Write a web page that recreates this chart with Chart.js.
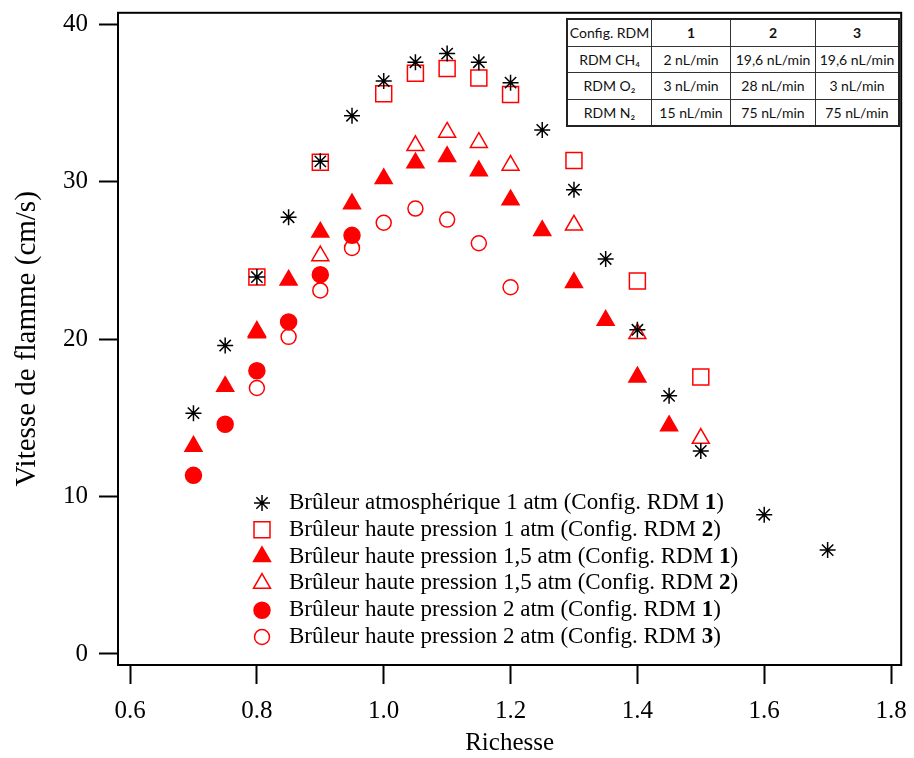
<!DOCTYPE html>
<html lang="fr">
<head>
<meta charset="utf-8">
<title>Vitesse de flamme</title>
<script src="https://cdn.jsdelivr.net/npm/chart.js@4.4.1/dist/chart.umd.min.js"></script>
<style>
  html, body { margin: 0; padding: 0; background: #fff; }
  #cadre { position: relative; width: 914px; height: 758px; }
  #tableRDM {
    position: absolute; left: 566px; top: 18px;
    border-collapse: collapse; background: #fff; color: #111;
    font-family: Lato, "Open Sans", sans-serif; font-size: 14px;
    border: 2px solid #222;
  }
  #tableRDM td { border: 1px solid #333; text-align: center; height: 25.5px; padding: 0; }
  #tableRDM td.b { font-weight: bold; }
</style>
</head>
<body>
<div id="cadre">
  <canvas id="chartFlamme"></canvas>
  <table id="tableRDM">
    <tr><td style="width:83px">Config. RDM</td><td class="b" style="width:78px">1</td><td class="b" style="width:84px">2</td><td class="b" style="width:82px">3</td></tr>
    <tr><td>RDM CH₄</td><td>2 nL/min</td><td>19,6 nL/min</td><td>19,6 nL/min</td></tr>
    <tr><td>RDM O₂</td><td>3 nL/min</td><td>28 nL/min</td><td>3 nL/min</td></tr>
    <tr><td>RDM N₂</td><td>15 nL/min</td><td>75 nL/min</td><td>75 nL/min</td></tr>
  </table>
</div>
<script>
// ---- données ----
const xTicks = [0.6, 0.8, 1.0, 1.2, 1.4, 1.6, 1.8];
const yTicks = [0, 10, 20, 30, 40];

const nomsSeries = [
  "Brûleur atmosphérique 1 atm",
  "Brûleur haute pression 1 atm",
  "Brûleur haute pression 1,5 atm",
  "Brûleur haute pression 1,5 atm",
  "Brûleur haute pression 2 atm",
  "Brûleur haute pression 2 atm",
];
const configSeries = ["1", "2", "1", "2", "1", "3"];

// brûleur atmosphérique 1 atm (RDM 1)
const xAtm = [0.7, 0.75, 0.8, 0.85, 0.9, 0.95, 1.0, 1.05, 1.1, 1.15, 1.2, 1.25, 1.3, 1.35, 1.4, 1.45, 1.5, 1.6, 1.7];
const yAtm = [15.3, 19.6, 23.95, 27.75, 31.3, 34.2, 36.4, 37.6, 38.15, 37.6, 36.3, 33.3, 29.5, 25.1, 20.6, 16.4, 12.9, 8.85, 6.6];

// haute pression 1 atm (RDM 2)
const xHp1 = [0.8, 0.9, 1.0, 1.05, 1.1, 1.15, 1.2, 1.3, 1.4, 1.5];
const yHp1 = [23.95, 31.25, 35.6, 36.9, 37.2, 36.6, 35.55, 31.35, 23.7, 17.6];

// haute pression 1,5 atm (RDM 1)
const xHp15a = [0.7, 0.75, 0.8, 0.85, 0.9, 0.95, 1.0, 1.05, 1.1, 1.15, 1.2, 1.25, 1.3, 1.35, 1.4, 1.45];
const yHp15a = [13.2, 17.0, 20.4, 23.75, 26.8, 28.6, 30.2, 31.2, 31.6, 30.7, 28.85, 26.9, 23.6, 21.2, 17.6, 14.5];

// haute pression 1,5 atm (RDM 2)
const xHp15b = [0.8, 0.9, 1.05, 1.1, 1.15, 1.2, 1.3, 1.4, 1.5];
const yHp15b = [20.5, 25.3, 32.3, 33.15, 32.5, 31.05, 27.25, 20.35, 13.7];

// haute pression 2 atm (RDM 1)
const xHp2a = [0.7, 0.75, 0.8, 0.85, 0.9, 0.95];
const yHp2a = [11.35, 14.6, 18.0, 21.1, 24.1, 26.6];

// haute pression 2 atm (RDM 3)
const xHp2b = [0.8, 0.85, 0.9, 0.95, 1.0, 1.05, 1.1, 1.15, 1.2];
const yHp2b = [16.9, 20.15, 23.1, 25.8, 27.4, 28.3, 27.6, 26.1, 23.3];

// ---- mise en forme ----
const ROUGE = "#ff0000";
const POLICE = '"Liberation Serif", "Times New Roman", serif';
const LEGENDE_X = 262, TEXTE_X = 289, LEGENDE_Y = 503, LEGENDE_PAS = 26.8;
const TAILLE_LEGENDE = 23;

function points(xs, ys) {
  return xs.map((x, i) => ({ x: x, y: ys[i] }));
}

function serie(i, xs, ys, style, rayon, plein, couleur) {
  return {
    label: nomsSeries[i] + " (Config. RDM " + configSeries[i] + ")",
    data: points(xs, ys),
    pointStyle: style,
    pointRadius: rayon,
    pointHoverRadius: rayon,
    borderWidth: 1.5,
    borderColor: couleur,
    backgroundColor: plein ? couleur : "rgba(0,0,0,0)",
    showLine: false,
  };
}

// cadre complet autour de la zone de tracé
const cadrePlugin = {
  id: "cadre",
  afterDraw(chart) {
    const a = chart.chartArea, ctx = chart.ctx;
    ctx.save();
    ctx.strokeStyle = "#000";
    ctx.lineWidth = 2;
    ctx.strokeRect(a.left, a.top, a.right - a.left, a.bottom - a.top);
    ctx.restore();
  },
};

// légende dans la zone de tracé, avec le numéro de config en gras
const legendePlugin = {
  id: "legendeInterne",
  afterDatasetsDraw(chart) {
    const ctx = chart.ctx;
    const normal = TAILLE_LEGENDE + "px " + POLICE;
    const gras = "bold " + TAILLE_LEGENDE + "px " + POLICE;
    chart.data.datasets.forEach((ds, i) => {
      const y = LEGENDE_Y + i * LEGENDE_PAS;
      ctx.save();
      ctx.fillStyle = ds.backgroundColor;
      ctx.strokeStyle = ds.borderColor;
      ctx.lineWidth = ds.borderWidth;
      Chart.helpers.drawPoint(ctx, {
        pointStyle: ds.pointStyle, radius: ds.pointRadius, rotation: 0, borderWidth: ds.borderWidth,
      }, LEGENDE_X, y);
      ctx.restore();

      ctx.save();
      ctx.fillStyle = "#000";
      ctx.textBaseline = "middle";
      const debut = nomsSeries[i] + " (Config. RDM ";
      ctx.font = normal;
      ctx.fillText(debut, TEXTE_X, y);
      let x = TEXTE_X + ctx.measureText(debut).width;
      ctx.font = gras;
      ctx.fillText(configSeries[i], x, y);
      x += ctx.measureText(configSeries[i]).width;
      ctx.font = normal;
      ctx.fillText(")", x, y);
      ctx.restore();
    });
  },
};

const axeCommun = {
  grid: { drawOnChartArea: false, drawTicks: true, tickLength: 19, tickWidth: 2, tickColor: "#000" },
  border: { display: true, color: "#000", width: 2 },
};

const ctx = document.getElementById("chartFlamme").getContext("2d");
new Chart(ctx, {
  type: "scatter",
  data: {
    datasets: [
      serie(0, xAtm, yAtm, "star", 8, false, "#000"),
      serie(1, xHp1, yHp1, "rect", 11.3, false, ROUGE),
      serie(2, xHp15a, yHp15a, "triangle", 9.8, true, ROUGE),
      serie(3, xHp15b, yHp15b, "triangle", 9.8, false, ROUGE),
      serie(4, xHp2a, yHp2a, "circle", 8, true, ROUGE),
      serie(5, xHp2b, yHp2b, "circle", 7.5, false, ROUGE),
    ],
  },
  options: {
    responsive: true,
    maintainAspectRatio: false,
    animation: false,
    layout: { padding: { top: 11, right: 8, left: 0, bottom: 0 } },
    plugins: { legend: { display: false }, tooltip: { enabled: false } },
    scales: {
      x: {
        ...axeCommun,
        type: "linear",
        min: 0.581,
        max: 1.816,
        afterBuildTicks: (axe) => { axe.ticks = xTicks.map((v) => ({ value: v })); },
        afterFit: (axe) => { axe.height = 93; axe.paddingLeft = 0; axe.paddingRight = 0; },
        ticks: {
          color: "#000", padding: 12, maxRotation: 0,
          font: { family: POLICE, size: 25 },
          callback: (v) => Number(v).toFixed(1),
        },
        title: {
          display: true, text: "Richesse", color: "#000",
          font: { family: POLICE, size: 25 }, padding: { top: 0, bottom: 0 },
        },
      },
      y: {
        ...axeCommun,
        type: "linear",
        min: -0.70,
        max: 40.74,
        afterBuildTicks: (axe) => { axe.ticks = yTicks.map((v) => ({ value: v })); },
        afterFit: (axe) => { axe.width = 118; axe.paddingTop = 0; axe.paddingBottom = 0; },
        ticks: {
          color: "#000", padding: 11,
          font: { family: POLICE, size: 25 },
          callback: (v) => String(v),
        },
        title: {
          display: true, text: "Vitesse de flamme (cm/s)", color: "#000",
          font: { family: POLICE, size: 29 }, padding: { top: 10, bottom: 0 },
        },
      },
    },
  },
  plugins: [cadrePlugin, legendePlugin],
});
</script>
</body>
</html>
